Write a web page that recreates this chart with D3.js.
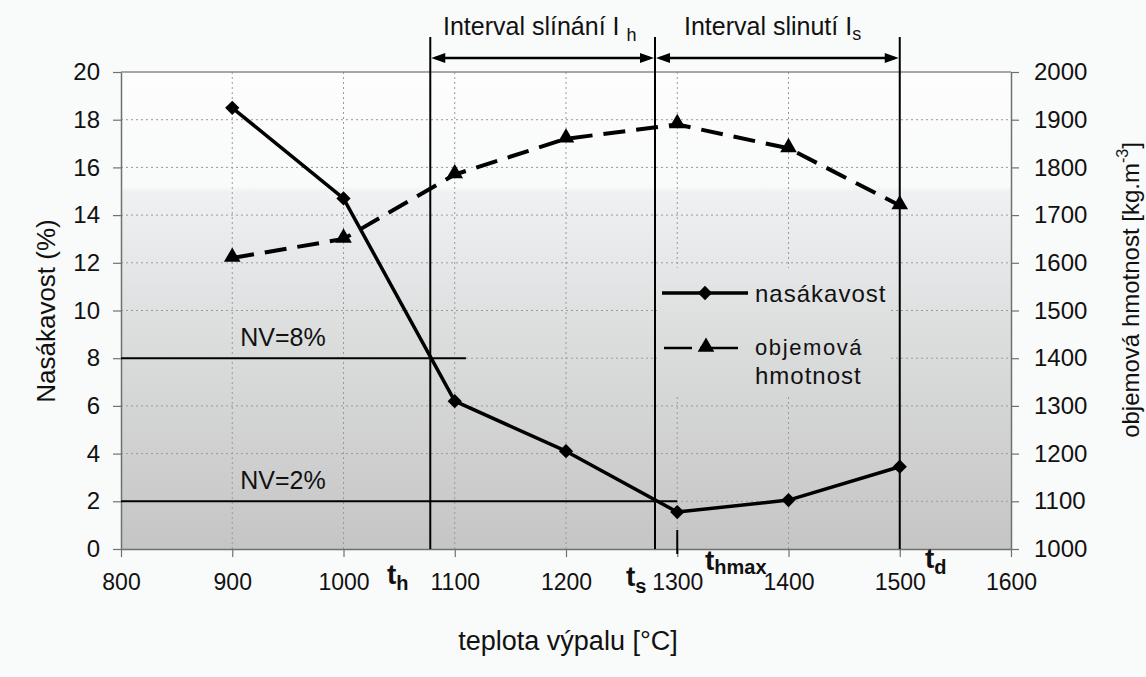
<!DOCTYPE html>
<html>
<head>
<meta charset="utf-8">
<script src="https://cdn.jsdelivr.net/npm/d3@7.9.0/dist/d3.min.js"></script>
<style>
  html, body { margin: 0; padding: 0; background: #f9fafa; }
  svg { display: block; font-family: "Liberation Sans", Arial, sans-serif; }
</style>
</head>
<body>
<svg id="chart" width="1146" height="677"></svg>
<script>
// --- data ---
const temps = [900, 1000, 1100, 1200, 1300, 1400, 1500];
const nasakavost = [18.5, 14.7, 6.2, 4.1, 1.55, 2.05, 3.45];      // %
const objemova = [1610, 1650, 1785, 1860, 1890, 1840, 1720];     // kg.m-3
const xTicks = [800, 900, 1000, 1100, 1200, 1300, 1400, 1500, 1600];
const yLeftTicks = [0, 2, 4, 6, 8, 10, 12, 14, 16, 18, 20];
const yRightTicks = [1000, 1100, 1200, 1300, 1400, 1500, 1600, 1700, 1800, 1900, 2000];
// characteristic temperatures
const tH = 1078, tS = 1280, tHmax = 1300, tD = 1500;
// water absorption limits and where their lines stop
const nvLevels = [8, 2];
const nvEnds = [1110, 1300];

const svg = d3.select('#chart');
const pL = 121, pR = 1011, pT = 72, pB = 549;

const x = d3.scaleLinear().domain([800, 1600]).range([pL, pR]);
const yL = d3.scaleLinear().domain([0, 20]).range([pB, pT]);
const yR = d3.scaleLinear().domain([1000, 2000]).range([pB, pT]);

// --- background gradient of the plot area ---
const defs = svg.append('defs');
const grad = defs.append('linearGradient')
  .attr('id', 'bg').attr('gradientUnits', 'userSpaceOnUse')
  .attr('x1', 0).attr('y1', pT).attr('x2', 0).attr('y2', pB);
[['0%', '#fdfdfd'], ['24%', '#f9fafa'], ['25%', '#eff1f3'], ['55%', '#dcdddd'], ['100%', '#c5c5c5']]
  .forEach(([o, c]) => grad.append('stop').attr('offset', o).attr('stop-color', c));

svg.append('rect').attr('x', pL).attr('y', pT)
  .attr('width', pR - pL).attr('height', pB - pT).attr('fill', 'url(#bg)');

// --- grid ---
const grid = svg.append('g').attr('stroke', '#9a9a9a').attr('stroke-width', 1)
  .attr('stroke-dasharray', '2,3');
grid.selectAll('.hg').data(yLeftTicks.slice(1, -1)).join('line')
  .attr('x1', pL).attr('x2', pR)
  .attr('y1', d => yL(d)).attr('y2', d => yL(d));
grid.selectAll('.vg').data(xTicks.slice(1, -1)).join('line')
  .attr('y1', pT).attr('y2', pB)
  .attr('x1', d => x(d)).attr('x2', d => x(d));

// --- axes ---
function styleAxis(g) {
  g.selectAll('path').attr('stroke', '#707070').attr('stroke-width', 1.5);
  g.selectAll('line').attr('stroke', '#707070').attr('stroke-width', 1.2);
  g.selectAll('text').attr('fill', '#111').attr('font-size', 24)
    .attr('font-family', '"Liberation Sans", Arial, sans-serif');
}
const fmt = d3.format('d');
svg.append('g').attr('transform', `translate(${pL},0)`)
  .call(d3.axisLeft(yL).tickValues(yLeftTicks).tickFormat(fmt).tickSize(8).tickSizeOuter(0).tickPadding(13))
  .call(styleAxis);
svg.append('g').attr('transform', `translate(${pR},0)`)
  .call(d3.axisRight(yR).tickValues(yRightTicks).tickFormat(fmt).tickSize(8).tickSizeOuter(0).tickPadding(15))
  .call(styleAxis);
svg.append('g').attr('transform', `translate(0,${pB})`)
  .call(d3.axisBottom(x).tickValues(xTicks).tickFormat(fmt).tickSize(8).tickSizeOuter(0).tickPadding(17))
  .call(styleAxis)
  .call(g => g.selectAll('text').attr('font-size', 23));
svg.append('line').attr('x1', pL).attr('x2', pR).attr('y1', pT).attr('y2', pT)
  .attr('stroke', '#8a8a8a').attr('stroke-width', 1.5);

// --- axis titles ---
svg.append('text').attr('x', 568).attr('y', 650)
  .attr('text-anchor', 'middle').attr('font-size', 27).attr('fill', '#111')
  .text('teplota výpalu [°C]');
svg.append('text').attr('transform', `translate(55,311) rotate(-90)`)
  .attr('text-anchor', 'middle').attr('font-size', 26).attr('fill', '#111')
  .text('Nasákavost (%)');
const rt = svg.append('text').attr('transform', `translate(1139,290) rotate(-90)`)
  .attr('text-anchor', 'middle').attr('font-size', 24).attr('fill', '#111');
rt.append('tspan').text('objemová hmotnost [kg.m');
rt.append('tspan').attr('dy', -11).attr('font-size', 16).text('-3');
rt.append('tspan').attr('dy', 11).text(']');

// --- NV limit lines ---
nvLevels.forEach((v, i) => {
  svg.append('line').attr('x1', pL).attr('x2', x(nvEnds[i]))
    .attr('y1', yL(v)).attr('y2', yL(v)).attr('stroke', '#000').attr('stroke-width', 2);
  svg.append('text').attr('x', 283).attr('y', yL(v) - 12)
    .attr('text-anchor', 'middle').attr('font-size', 25).attr('fill', '#111')
    .text(`NV=${v}%`);
});

// --- legend box (hides grid behind it) ---
svg.append('rect').attr('x', 657).attr('y', 268).attr('width', 232).attr('height', 127)
  .attr('fill', 'url(#bg)');

// --- vertical temperature marks ---
[tH, tS, tD].forEach(t => {
  svg.append('line').attr('x1', x(t)).attr('x2', x(t)).attr('y1', 37).attr('y2', pB)
    .attr('stroke', '#000').attr('stroke-width', 2);
});
svg.append('line').attr('x1', x(tHmax)).attr('x2', x(tHmax)).attr('y1', 530).attr('y2', 554)
  .attr('stroke', '#000').attr('stroke-width', 2);

// --- interval arrows ---
const arrowY = 58;
function arrow(x1, x2) {
  const L = 14, w = 5;
  svg.append('line').attr('x1', x1 + 4).attr('x2', x2 - 4).attr('y1', arrowY).attr('y2', arrowY)
    .attr('stroke', '#000').attr('stroke-width', 2.5);
  svg.append('path').attr('d', `M${x1},${arrowY}L${x1 + L},${arrowY - w}L${x1 + L},${arrowY + w}Z`);
  svg.append('path').attr('d', `M${x2},${arrowY}L${x2 - L},${arrowY - w}L${x2 - L},${arrowY + w}Z`);
}
arrow(x(tH) + 1, x(tS) - 1);
arrow(x(tS) + 1, x(tD) - 1);

const i1 = svg.append('text').attr('x', 443).attr('y', 35).attr('font-size', 25).attr('fill', '#111');
i1.append('tspan').text('Interval slínání I ');
i1.append('tspan').attr('dy', 6).attr('font-size', 18).text('h');
const i2 = svg.append('text').attr('x', 684).attr('y', 35).attr('font-size', 25).attr('fill', '#111');
i2.append('tspan').text('Interval slinutí I');
i2.append('tspan').attr('dy', 5).attr('font-size', 18).text('s');

// --- series lines ---
const lineL = d3.line().x((d, i) => x(temps[i])).y(d => yL(d));
const lineR = d3.line().x((d, i) => x(temps[i])).y(d => yR(d));

svg.append('path').datum(objemova).attr('d', lineR)
  .attr('fill', 'none').attr('stroke', '#000').attr('stroke-width', 4)
  .attr('stroke-dasharray', '22,11');
svg.append('path').datum(nasakavost).attr('d', lineL)
  .attr('fill', 'none').attr('stroke', '#000').attr('stroke-width', 3.5)
  .attr('stroke-linejoin', 'round');

const diamond = d3.symbol().type(d3.symbolDiamond2).size(130);
const triangle = d3.symbol().type(d3.symbolTriangle).size(120);

svg.selectAll('.dm').data(nasakavost).join('path')
  .attr('transform', (d, i) => `translate(${x(temps[i])},${yL(d)})`)
  .attr('d', diamond).attr('fill', '#000');
svg.selectAll('.tr').data(objemova).join('path')
  .attr('transform', (d, i) => `translate(${x(temps[i])},${yR(d) - 1})`)
  .attr('d', triangle).attr('fill', '#000');

// --- legend ---
svg.append('line').attr('x1', 662).attr('x2', 748).attr('y1', 293).attr('y2', 293)
  .attr('stroke', '#000').attr('stroke-width', 3.5);
svg.append('path').attr('transform', 'translate(705,293)').attr('d', diamond);
svg.append('line').attr('x1', 664).attr('x2', 692).attr('y1', 348).attr('y2', 348)
  .attr('stroke', '#000').attr('stroke-width', 2.5);
svg.append('line').attr('x1', 700).attr('x2', 738).attr('y1', 348).attr('y2', 348)
  .attr('stroke', '#000').attr('stroke-width', 2.5);
svg.append('path').attr('transform', 'translate(706,347)').attr('d', triangle);
svg.append('text').attr('x', 755).attr('y', 302).attr('font-size', 24).attr('fill', '#111')
  .attr('letter-spacing', 1).text('nasákavost');
svg.append('text').attr('x', 755).attr('y', 355).attr('font-size', 22).attr('fill', '#111')
  .attr('letter-spacing', 1.6).text('objemová');
svg.append('text').attr('x', 755).attr('y', 384).attr('font-size', 24).attr('fill', '#111')
  .attr('letter-spacing', 1).text('hmotnost');

// --- t labels ---
function tLabel(px, py, sub, subDy) {
  const t = svg.append('text').attr('x', px).attr('y', py)
    .attr('font-size', 28).attr('font-weight', 'bold').attr('fill', '#111');
  t.append('tspan').text('t');
  t.append('tspan').attr('dy', subDy).attr('font-size', 20).text(sub);
}
tLabel(387, 584, 'h', 6);
tLabel(626, 586, 's', 7);
tLabel(705, 570, 'hmax', 4);
tLabel(925, 568, 'd', 6);
</script>
</body>
</html>
